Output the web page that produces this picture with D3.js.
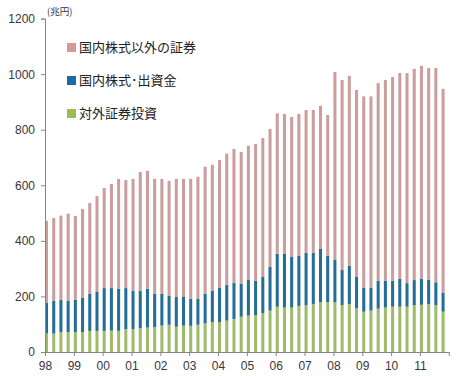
<!DOCTYPE html>
<html>
<head>
<meta charset="utf-8">
<script src="https://cdn.jsdelivr.net/npm/d3@7"></script>
<style>
  body { margin: 0; background: #fff; }
  svg { display: block; font-family: "Liberation Sans", Arial, sans-serif; }
  .jp { font-family: "Noto Sans CJK JP", sans-serif; }
</style>
</head>
<body>
<div id="chart"></div>
<script>
// quarterly, 1998 Q1 .. 2011 Q4 (兆円)
const yearLabels = ["98","99","00","01","02","03","04","05","06","07","08","09","10","11"];
const yTicks = [0, 200, 400, 600, 800, 1000, 1200];

const seriesNames = ["対外証券投資", "国内株式・出資金", "国内株式以外の証券"];
const legendNames = ["国内株式以外の証券", "国内株式･出資金", "対外証券投資"];

const foreignSec = [67,66,72,72,72,72,76,76,76,77, 76,82,82,86,88,89,95,98,91,95,
  94,98,103,108,108,113,119,127,131,133, 140,149,163,160,160,166,168,173,180,180,
  179,169,173,158,145,149,156,160,163,163, 163,169,170,173,169,145];
const domStock = [111,118,116,113,116,124,133,140,154,153, 152,148,139,135,140,120,114,105,107,103,
  98,93,106,112,124,129,129,118,128,123, 130,158,191,193,182,180,189,184,191,166,
  152,126,137,112,87,83,100,96,93,101, 85,90,94,87,82,69];
const domOther = [294,298,303,313,302,319,327,345,360,375, 395,389,402,427,424,414,414,413,425,425,
  431,440,458,454,459,472,483,475,483,493, 500,496,505,504,504,511,514,514,515,507,
  677,684,684,673,688,688,712,723,734,740, 756,760,766,762,771,733];

const colors = ["#9fba6a", "#236d96", "#cb9d9d"];
const legendColors = ["#d49a98", "#1d6aa5", "#9bbb59"];

const width = 458, height = 376;
const x0 = 45, yBase = 352, yTop = 18.6;

const svg = d3.select("#chart").append("svg")
  .attr("width", width)
  .attr("height", height);

const table = foreignSec.map((v, i) => ({ i, foreignSec: v, domStock: domStock[i], domOther: domOther[i] }));
const stacked = d3.stack().keys(["foreignSec", "domStock", "domOther"])(table);

const x = d3.scaleBand()
  .domain(table.map(d => d.i))
  .range([x0, x0 + 56 * 7.21])
  .paddingInner(0.58)
  .paddingOuter(0.29)
  .align(0);

const y = d3.scaleLinear().domain([0, 1200]).range([yBase, yTop]);

const yearX = d3.scaleLinear().domain([0, 14]).range([x0, x0 + 14 * 4 * 7.21]);

// Bars
svg.append("g")
  .selectAll("g")
  .data(stacked)
  .join("g")
  .attr("fill", (d, k) => colors[k])
  .selectAll("rect")
  .data(d => d)
  .join("rect")
  .attr("x", d => x(d.data.i))
  .attr("width", x.bandwidth())
  .attr("y", d => y(d[1]))
  .attr("height", d => y(d[0]) - y(d[1]));

// Y axis
const yAxis = svg.append("g")
  .attr("transform", `translate(${x0},0)`)
  .call(d3.axisLeft(y).tickValues(yTicks).tickSize(4).tickPadding(6).tickFormat(d3.format("d")));
yAxis.select(".domain").attr("stroke", "#868686");
yAxis.selectAll(".tick line").attr("stroke", "#868686");
yAxis.selectAll("text")
  .style("font-size", "12px")
  .style("fill", "#3a3440");

// X axis
const xAxis = svg.append("g")
  .attr("transform", `translate(0,${yBase})`)
  .call(d3.axisBottom(yearX)
    .tickValues(d3.range(0, 15))
    .tickSize(4)
    .tickSizeOuter(0)
    .tickPadding(5)
    .tickFormat(d => yearLabels[d] || ""));
xAxis.select(".domain").attr("stroke", "#868686");
xAxis.selectAll(".tick line").attr("stroke", "#868686");
xAxis.selectAll("text")
  .style("font-size", "12px")
  .style("fill", "#3a3440");

// Unit
svg.append("text")
  .attr("class", "jp")
  .attr("x", x0 + 2)
  .attr("y", 15)
  .style("font-size", "9.5px")
  .style("fill", "#3a3440")
  .text("(兆円)");

// Legend
const legend = svg.append("g").selectAll("g")
  .data(legendNames)
  .join("g")
  .attr("transform", (d, k) => `translate(67,${[43, 76, 109][k]})`);

legend.append("rect")
  .attr("width", 9)
  .attr("height", 9)
  .attr("fill", (d, k) => legendColors[k]);

legend.append("text")
  .attr("class", "jp")
  .attr("x", 12)
  .attr("y", 8.5)
  .style("font-size", "13px")
  .style("fill", "#222")
  .text(d => d);
</script>
</body>
</html>
